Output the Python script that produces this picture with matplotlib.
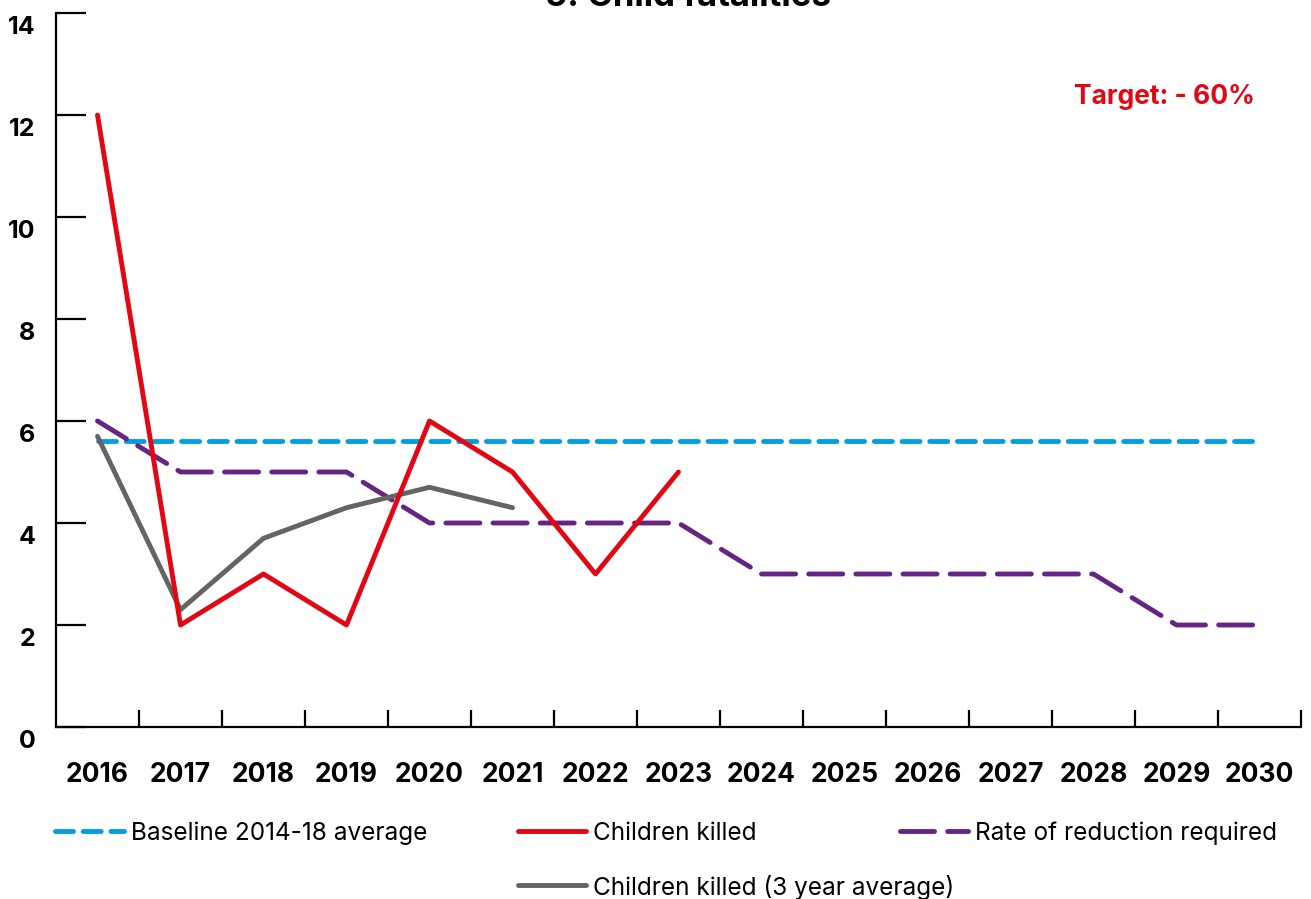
import matplotlib
matplotlib.use("Agg")
import matplotlib.pyplot as plt
import matplotlib.transforms as mtransforms
from matplotlib.lines import Line2D

plt.rcParams["font.family"] = ["Inter", "DejaVu Sans"]

# ── Data ──────────────────────────────────────────────────────────────────────
years = ["2016", "2017", "2018", "2019", "2020", "2021", "2022", "2023",
         "2024", "2025", "2026", "2027", "2028", "2029", "2030"]
baseline = [5.6] * 15
children_killed = [12, 2, 3, 2, 6, 5, 3, 5]
three_year_avg = [5.7, 2.3, 3.7, 4.3, 4.7, 4.3]
reduction_required = [6, 5, 5, 5, 4, 4, 4, 4, 3, 3, 3, 3, 3, 2, 2]
y_ticks = [0, 2, 4, 6, 8, 10, 12, 14]

# ── Colours ───────────────────────────────────────────────────────────────────
C_BLUE = "#009FE3"
C_RED = "#E30613"
C_PURPLE = "#662483"
C_GREY = "#646464"
C_TEXT = "#000000"

W, H = 1311, 899
fig = plt.figure(figsize=(W / 100, H / 100), dpi=100)
ax = fig.add_axes([56 / W, 1 - 727 / H, (1301 - 56) / W, (727 - 13) / H])

x_all = list(range(len(years)))
LW = 3.5

ax.plot(x_all, baseline, color=C_BLUE, lw=LW, dashes=(3.7, 2.0),
        dash_capstyle="round", zorder=2)
ax.plot(x_all, reduction_required, color=C_PURPLE, lw=LW, dashes=(7.0, 2.7),
        dash_capstyle="round", zorder=3)
ax.plot(x_all[:len(three_year_avg)], three_year_avg, color=C_GREY, lw=LW,
        solid_capstyle="round", zorder=4)
ax.plot(x_all[:len(children_killed)], children_killed, color=C_RED, lw=LW,
        solid_capstyle="round", zorder=5)

ax.set_xlim(-0.5, len(years) - 0.5)
ax.set_ylim(0, 14)

# spines
for s in ["top", "right"]:
    ax.spines[s].set_visible(False)
for s in ["left", "bottom"]:
    ax.spines[s].set_linewidth(1.6)

# y ticks
ax.set_yticks(y_ticks)
ax.set_yticklabels([str(v) for v in y_ticks], fontsize=18, fontweight="bold")
ax.tick_params(axis="y", direction="in", length=21.5, width=1.6, pad=15)
offset = mtransforms.ScaledTranslation(0, -0.12, fig.dpi_scale_trans)
for lbl in ax.get_yticklabels():
    lbl.set_transform(lbl.get_transform() + offset)

# x ticks: labels at centres, tick marks at boundaries
ax.set_xticks(x_all)
ax.set_xticklabels(years, fontsize=19, fontweight="bold")
ax.tick_params(axis="x", which="major", length=0, pad=25.5)
ax.set_xticks([i + 0.5 for i in x_all], minor=True)
ax.tick_params(axis="x", which="minor", direction="in", length=12, width=1.6)

# title (cut at top as in the source)
fig.text(688 / W, 1 - 6 / H, "5. Child fatalities", ha="center", va="baseline",
         fontsize=25, fontweight="bold", color=C_TEXT)

# target annotation
fig.text(1164 / W, 1 - 97 / H, "Target: - 60%", ha="center", va="center",
         fontsize=19, fontweight="bold", color=C_RED)

# ── Legend (manual) ───────────────────────────────────────────────────────────
def leg_item(x0, x1, y, label, color, dashes=None):
    yf = 1 - y / H
    kw = dict(color=color, lw=LW, transform=fig.transFigure)
    if dashes:
        kw.update(dashes=dashes, dash_capstyle="round")
    else:
        kw.update(solid_capstyle="round")
    fig.add_artist(Line2D([x0 / W, x1 / W], [yf, yf], **kw))
    fig.text((x1 + 7) / W, yf - 2 / H, label, ha="left", va="center",
             fontsize=17.5, color=C_TEXT)

leg_item(55, 124, 831, "Baseline 2014-18 average", C_BLUE, (3.7, 2.0))
leg_item(518, 586, 831, "Children killed", C_RED)
leg_item(900, 968, 831, "Rate of reduction required", C_PURPLE, (7.0, 2.7))
leg_item(518, 586, 885, "Children killed (3 year average)", C_GREY)

fig.savefig("out.png", dpi=100, facecolor="white")
